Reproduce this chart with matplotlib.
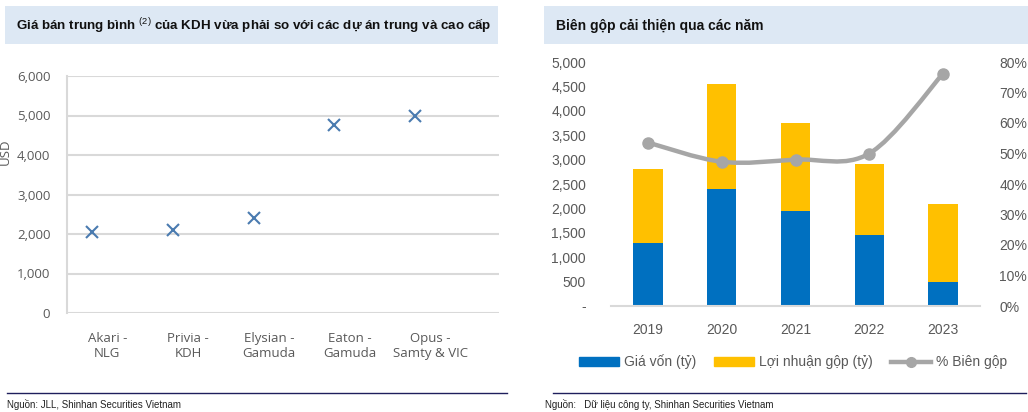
import numpy as np
import matplotlib.pyplot as plt
from matplotlib.patches import Rectangle, Patch, PathPatch
from matplotlib.lines import Line2D
from matplotlib.path import Path

# --- left chart data ---
du_an = ['Akari -\nNLG', 'Privia -\nKDH', 'Elysian -\nGamuda', 'Eaton -\nGamuda', 'Opus -\nSamty & VIC']
gia_ban = [2050, 2100, 2400, 4750, 5000]

# --- right chart data ---
nam = ['2019', '2020', '2021', '2022', '2023']
gia_von = [1300, 2400, 1950, 1450, 500]
loi_nhuan_gop = [1500, 2150, 1800, 1450, 1600]
bien_gop = [0.536, 0.473, 0.48, 0.50, 0.762]

GRAY_TXT = '#595959'
GRID = '#d9d9d9'
BOX = '#dde8f4'
TITLE_FONT = ['Liberation Sans', 'DejaVu Sans']
SEGOE = ['Open Sans', 'DejaVu Sans']
ARIAL = ['Liberation Sans', 'DejaVu Sans']

plt.rcParams['mathtext.fontset'] = 'custom'
plt.rcParams['mathtext.rm'] = 'Liberation Sans'

fig = plt.figure(figsize=(10.28, 4.12), dpi=100)
W, H = 1028, 412


def px(x, y, w, h):
    return [x / W, 1 - (y + h) / H, w / W, h / H]


# title boxes
fig.patches.append(Rectangle((5 / W, 1 - 44 / H), 493 / W, 38 / H, transform=fig.transFigure,
                             facecolor=BOX, edgecolor='none'))
fig.patches.append(Rectangle((544 / W, 1 - 44 / H), 484 / W, 38 / H, transform=fig.transFigure,
                             facecolor=BOX, edgecolor='none'))
fig.text(254 / W, 1 - 26 / H,
         'Giá bán trung bình $^{(2)}$ của KDH vừa phải so với các dự án trung và cao cấp',
         ha='center', va='center', fontsize=9.6, fontweight='bold', family=TITLE_FONT, color='#111111')
fig.text(556 / W, 1 - 26 / H, 'Biên gộp cải thiện qua các năm',
         ha='left', va='center', fontsize=10, fontweight='bold', family=TITLE_FONT, color='#111111')

# ---------- left: scatter ----------
ax1 = fig.add_axes(px(67, 76, 432, 237))
x1 = np.arange(len(du_an))
ax1.plot(x1 - 0.19, gia_ban, linestyle='none', marker='x', markersize=9, markeredgewidth=1.5,
         color='#4a7bb0', zorder=3)
ax1.set_xlim(-0.5, 4.85)
ax1.set_ylim(0, 6000)
ax1.set_yticks(range(0, 6001, 1000))
ax1.set_yticklabels([f'{v:,}' for v in range(0, 6001, 1000)])
ax1.set_xticks(x1)
ax1.set_xticklabels(du_an)
ax1.grid(axis='y', color=GRID, linewidth=1.5)
ax1.set_axisbelow(True)
for s in ['top', 'right', 'bottom']:
    ax1.spines[s].set_visible(False)
ax1.spines['left'].set_color(GRID)
ax1.spines['left'].set_linewidth(1.5)
ax1.tick_params(length=0, labelcolor=GRAY_TXT, labelsize=9.5)
ax1.tick_params(axis='y', pad=12)
ax1.tick_params(axis='x', pad=14)
for lab in ax1.get_xticklabels() + ax1.get_yticklabels():
    lab.set_family(SEGOE)
ax1.set_ylabel('USD', color=GRAY_TXT, fontsize=9.5, family=SEGOE)
ax1.yaxis.set_label_coords(-0.127, 0.68)

# ---------- right: stacked bars + margin line ----------
ax2 = fig.add_axes(px(611, 62, 369, 244))
x2 = np.arange(len(nam))
ax2.bar(x2, gia_von, width=0.4, color='#0070c0', zorder=2)
ax2.bar(x2, loi_nhuan_gop, width=0.4, bottom=gia_von, color='#ffc000', zorder=2)
ax2.set_xlim(-0.5, 4.5)
ax2.set_ylim(0, 5000)
ax2.set_yticks(range(0, 5001, 500))
ax2.set_yticklabels(['-'] + [f'{v:,}' for v in range(500, 5001, 500)])
ax2.set_xticks(x2)
ax2.set_xticklabels(nam)
for s in ['top', 'right', 'left']:
    ax2.spines[s].set_visible(False)
ax2.spines['bottom'].set_color(GRID)
ax2.spines['bottom'].set_linewidth(1.5)
ax2.tick_params(length=0, labelcolor=GRAY_TXT, labelsize=10)
ax2.tick_params(axis='y', pad=18)
ax2.tick_params(axis='x', pad=12)
for lab in ax2.get_xticklabels() + ax2.get_yticklabels():
    lab.set_family(ARIAL)

ax3 = ax2.twinx()
ax3.set_ylim(0, 0.8)
ax3.set_yticks(np.arange(0, 0.81, 0.1))
ax3.set_yticklabels([f'{int(round(v * 100))}%' for v in np.arange(0, 0.81, 0.1)])
for s in ax3.spines.values():
    s.set_visible(False)
ax3.tick_params(length=0, labelcolor=GRAY_TXT, labelsize=10, pad=14)
for lab in ax3.get_yticklabels():
    lab.set_family(ARIAL)

# smoothed line (Catmull-Rom as cubic Bezier through the data points)
pts = np.column_stack([x2, bien_gop]).astype(float)
ext = np.vstack([pts[0], pts, pts[-1]])
verts = [tuple(pts[0])]
codes = [Path.MOVETO]
for i in range(len(pts) - 1):
    p0, p1, p2, p3 = ext[i], ext[i + 1], ext[i + 2], ext[i + 3]
    c1 = p1 + (p2 - p0) / 6
    c2 = p2 - (p3 - p1) / 6
    verts += [tuple(c1), tuple(c2), tuple(p2)]
    codes += [Path.CURVE4] * 3
ax3.add_patch(PathPatch(Path(verts, codes), facecolor='none', edgecolor='#a6a6a6',
                        linewidth=3.2, capstyle='round', zorder=4))
ax3.plot(x2, bien_gop, linestyle='none', marker='o', markersize=8, color='#a6a6a6', zorder=5)

handles = [Patch(color='#0070c0', label='Giá vốn (tỷ)'),
           Patch(color='#ffc000', label='Lợi nhuận gộp (tỷ)'),
           Line2D([], [], color='#a6a6a6', linewidth=3.2, marker='o', markersize=7, label='% Biên gộp')]
leg = fig.legend(handles=handles, loc='center', bbox_to_anchor=(793 / W, 1 - 362 / H), ncol=3,
                 frameon=False, prop={'family': ARIAL, 'size': 10}, handlelength=2.9,
                 handleheight=0.6, handletextpad=0.35, columnspacing=1.3)
for t in leg.get_texts():
    t.set_color(GRAY_TXT)

# footers
for x0, x1_ in [(7, 507), (553, 1026)]:
    fig.add_artist(Line2D([x0 / W, x1_ / W], [1 - 393 / H] * 2, color='#1f1f5c', linewidth=1))
fig.text(7 / W, 1 - 404 / H, 'Nguồn: JLL, Shinhan Securities Vietnam', fontsize=7,
         va='center', color='#222222', family=TITLE_FONT)
fig.text(545 / W, 1 - 404 / H, 'Nguồn:   Dữ liệu công ty, Shinhan Securities Vietnam', fontsize=7,
         va='center', color='#222222', family=TITLE_FONT)

fig.savefig('out.png', dpi=100, facecolor='white')
